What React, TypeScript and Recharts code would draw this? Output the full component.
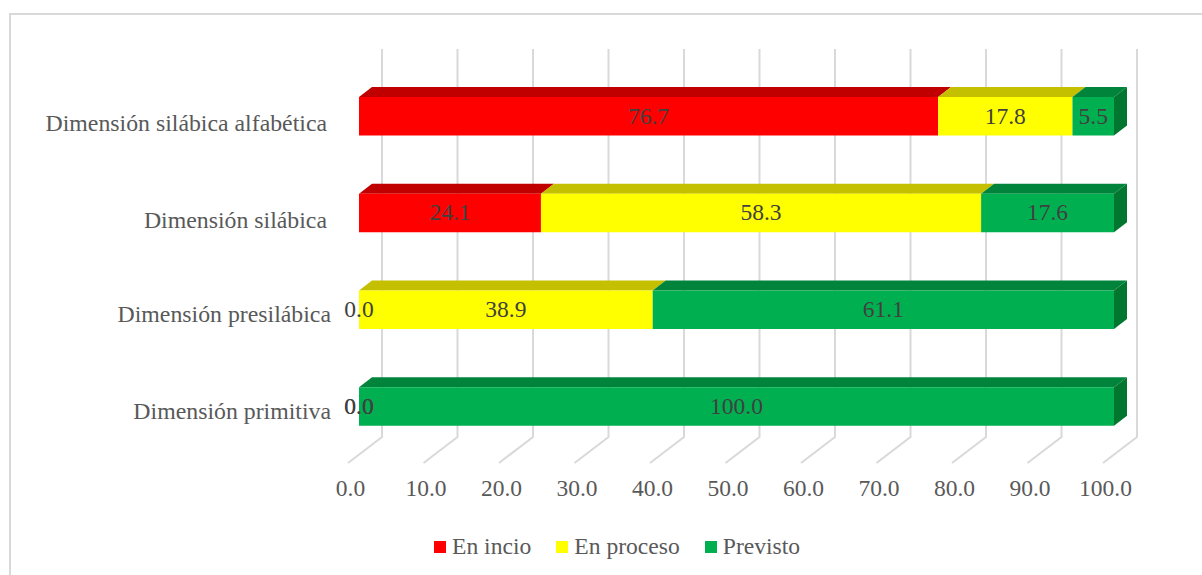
import React from 'react';
import { BarChart, Bar, XAxis, YAxis, CartesianGrid, Legend, LabelList } from 'recharts';

const categories = [
  'Dimensión silábica alfabética',
  'Dimensión silábica',
  'Dimensión presilábica',
  'Dimensión primitiva',
];
const enIncio = [76.7, 24.1, 0.0, 0.0];
const enProceso = [17.8, 58.3, 38.9, 0.0];
const previsto = [5.5, 17.6, 61.1, 100.0];
const xTicks = [0, 10, 20, 30, 40, 50, 60, 70, 80, 90, 100];

const chartData = categories.map((name, i) => ({
  name,
  enIncio: enIncio[i],
  enProceso: enProceso[i],
  previsto: previsto[i],
}));

const FONT = '"Liberation Serif", serif';
const GRID = '#d9d9d9';
const DEPTH_X = 13;
const DEPTH_Y = 10;

// front face, top face and (last series only) right side, fake 3D like the Excel original
const bar3d = (fill: string, topFill: string, sideFill?: string) => (props: any) => {
  const { x, y, width, height } = props;
  if (!width) return <g />;
  return (
    <g>
      <polygon
        points={`${x},${y} ${x + width},${y} ${x + width + DEPTH_X},${y - DEPTH_Y} ${x + DEPTH_X},${y - DEPTH_Y}`}
        fill={topFill}
      />
      {sideFill && (
        <polygon
          points={`${x + width},${y} ${x + width + DEPTH_X},${y - DEPTH_Y} ${x + width + DEPTH_X},${y + height - DEPTH_Y} ${x + width},${y + height}`}
          fill={sideFill}
        />
      )}
      <rect x={x} y={y} width={width} height={height} fill={fill} />
    </g>
  );
};

const gridLine = (props: any) => {
  const { x1, key } = props;
  return (
    <polyline
      key={key}
      points={`${x1 + 23},49 ${x1 + 23},437 ${x1 - 11},463`}
      fill="none"
      stroke={GRID}
      strokeWidth={2}
    />
  );
};

const XTick = ({ x, y, payload }: any) => (
  <text x={x - 8.5} y={y} textAnchor="middle" fontFamily={FONT} fontSize={23.5} fill="#595959">
    {payload.value.toFixed(1)}
  </text>
);

const yNudgeX = [-24, -24, -20, -20];
const yNudgeY = [15, 15, 12, 12];

const YTick = ({ x, y, payload, index }: any) => (
  <text x={x + yNudgeX[index]} y={y + yNudgeY[index]} textAnchor="end" fontFamily={FONT} fontSize={23.8} fill="#595959">
    {payload.value}
  </text>
);

const LegendRow = ({ payload }: any) => (
  <div style={{ display: 'flex', paddingTop: 8, fontFamily: FONT, fontSize: 23.6, color: '#595959' }}>
    {(payload || []).map((p: any) => (
      <span key={p.value} style={{ display: 'flex', alignItems: 'center', marginRight: 25 }}>
        <span style={{ width: 12, height: 12, background: p.color, marginRight: 6 }} />
        {p.value}
      </span>
    ))}
  </div>
);

const labelStyle = { fill: '#404040', fontSize: 23.5, fontFamily: FONT };
const fmt = (v: any) => Number(v).toFixed(1);

export default function App() {
  return (
    <div style={{ position: 'absolute', left: 0, top: 0, width: 1202, height: 575, overflow: 'hidden', background: '#fff' }}>
      {/* only the top and left edges of the frame are inside the crop */}
      <div
        style={{
          position: 'absolute',
          left: 9,
          top: 13,
          width: 1193,
          height: 562,
          borderTop: `2px solid ${GRID}`,
          borderLeft: `2px solid ${GRID}`,
        }}
      />
      <div style={{ position: 'absolute', left: 0, top: 0 }}>
        <BarChart
          width={1202}
          height={575}
          layout="vertical"
          data={chartData}
          barSize={38.5}
          margin={{ top: 68, right: 88, left: 0, bottom: 0 }}
        >
          <CartesianGrid horizontal={false} vertical={gridLine} />
          <XAxis
            type="number"
            domain={[0, 100]}
            ticks={xTicks}
            axisLine={false}
            tickLine={false}
            tick={<XTick />}
            height={70}
            tickMargin={35}
          />
          <YAxis
            type="category"
            dataKey="name"
            width={359}
            axisLine={false}
            tickLine={false}
            tick={<YTick />}
            interval={0}
          />
          <Legend
            content={<LegendRow />}
            height={50}
            verticalAlign="bottom"
            wrapperStyle={{ left: 434, width: 500 }}
          />
          <Bar dataKey="enIncio" name="En incio" stackId="a" fill="#ff0000" isAnimationActive={false} shape={bar3d('#ff0000', '#c00000')}>
            <LabelList dataKey="enIncio" position="center" formatter={fmt} style={labelStyle} dy={-1} />
          </Bar>
          <Bar dataKey="enProceso" name="En proceso" stackId="a" fill="#ffff00" isAnimationActive={false} shape={bar3d('#ffff00', '#c4c000')}>
            <LabelList dataKey="enProceso" position="center" formatter={fmt} style={labelStyle} dy={-1} />
          </Bar>
          <Bar dataKey="previsto" name="Previsto" stackId="a" fill="#00b050" isAnimationActive={false} shape={bar3d('#00b050', '#00843c', '#00762f')}>
            <LabelList dataKey="previsto" position="center" formatter={fmt} style={labelStyle} dy={-1} />
          </Bar>
        </BarChart>
      </div>
    </div>
  );
}
